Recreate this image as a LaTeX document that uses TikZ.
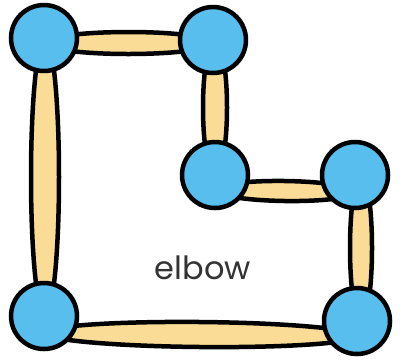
\documentclass[tikz,border=0pt]{standalone}
\usepackage{fontspec}
\setsansfont{Poppins}
\usepackage{tikz}
\usetikzlibrary{calc}
\usetikzlibrary{shapes.geometric}

\definecolor{ballblue}{RGB}{88,190,238}
\definecolor{sticktan}{RGB}{250,220,150}

\tikzset{
    ball/.style={circle, draw=black, line width=4.5pt, fill=ballblue, minimum size=66pt, inner sep=0pt},
    stick/.style={ellipse, draw=black, line width=4.5pt, fill=sticktan, inner sep=0pt},
}

% stick between two points: ends, thickness
\newcommand{\stickbar}[3]{%
    \path let \p1=($(#2)-(#1)$), \n1={veclen(\x1,\y1)}, \n2={atan2(\y1,\x1)} in
        node[stick, minimum width=\n1, minimum height=#3, rotate=\n2] at ($(#1)!0.5!(#2)$) {};
}

\begin{document}
\begin{tikzpicture}[x=1pt, y=-1pt]
    \useasboundingbox (0, 0) rectangle (403, 360);
    % balls
    \coordinate (a) at (44, 38);
    \coordinate (b) at (213, 40);
    \coordinate (c) at (215, 175);
    \coordinate (d) at (355, 175);
    \coordinate (e) at (357, 321);
    \coordinate (f) at (44, 316);
    % stick ends
    \coordinate (ab1) at (44, 43);   \coordinate (ab2) at (213, 43);
    \coordinate (bc1) at (215, 40);  \coordinate (bc2) at (215, 175);
    \coordinate (cd1) at (215, 190); \coordinate (cd2) at (355, 192);
    \coordinate (de1) at (361, 175); \coordinate (de2) at (361, 321);
    \coordinate (fe1) at (44, 333);  \coordinate (fe2) at (357, 336);
    \coordinate (af1) at (45, 38);   \coordinate (af2) at (45, 316);

    \stickbar{ab1}{ab2}{22pt}
    \stickbar{bc1}{bc2}{24pt}
    \stickbar{cd1}{cd2}{20pt}
    \stickbar{de1}{de2}{22pt}
    \stickbar{fe1}{fe2}{25pt}
    \stickbar{af1}{af2}{28pt}

    \foreach \n in {a, b, c, d, e, f}
        \node[ball] (\n ball) at (\n) {};

    \node[font=\sffamily\fontsize{32}{32}\selectfont, text=black!80] (label) at (203, 268) {elbow};
\end{tikzpicture}
\end{document}
